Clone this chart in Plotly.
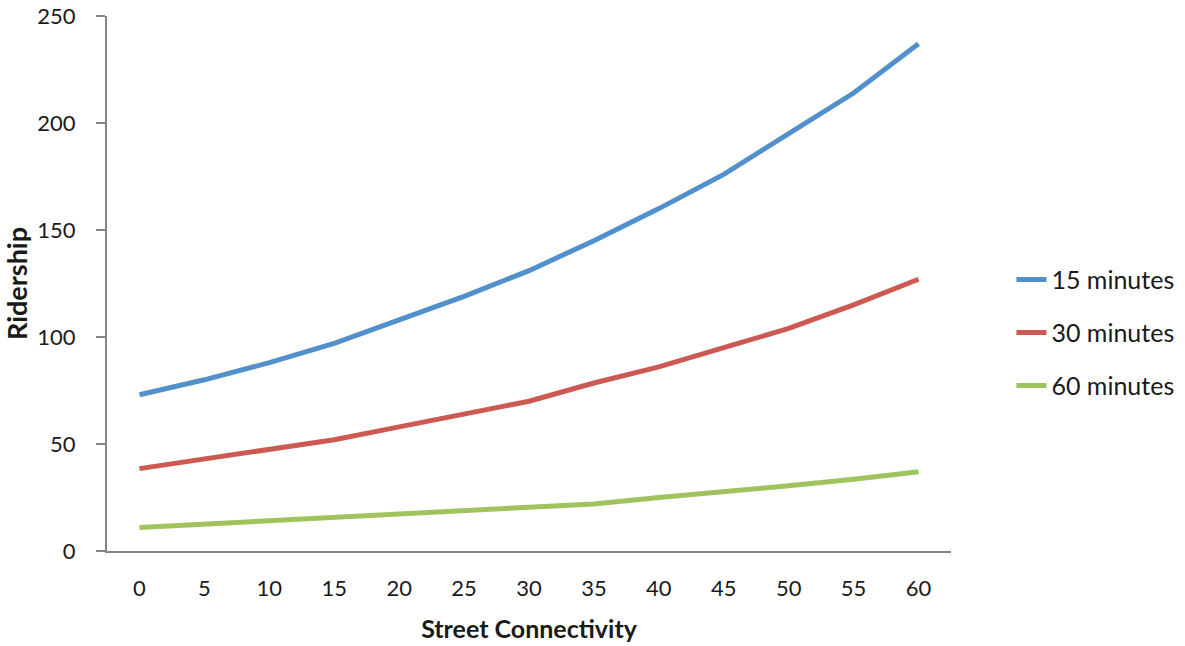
import plotly.graph_objects as go

connectivity = [0, 5, 10, 15, 20, 25, 30, 35, 40, 45, 50, 55, 60]
ridership_15 = [73, 80, 88, 97, 108, 119, 131, 145, 160, 176, 195, 214, 237]
ridership_30 = [38.5, 43, 47, 52, 58, 64, 70, 78.5, 86, 95, 104, 115, 127]
ridership_60 = [11, 12.5, 14, 15.5, 17, 18.5, 20, 22, 25, 27.5, 30.5, 33.5, 37]
series_names = ["15 minutes", "30 minutes", "60 minutes"]
series_colors = ["#5290CB", "#CD5A52", "#A0C35E"]

fig = go.Figure()
for name, vals, col in zip(series_names, [ridership_15, ridership_30, ridership_60], series_colors):
    fig.add_trace(go.Scatter(
        x=connectivity, y=vals, mode="lines", name=name, legendgroup=name,
        line=dict(color=col, width=5),
    ))

W, H = 1185, 646
ml, mr, mt, mb = 106.5, 233.5, 15.7, 95.3
fig.update_layout(
    width=W, height=H,
    margin=dict(l=ml, r=mr, t=mt, b=mb, pad=0, autoexpand=False),
    paper_bgcolor="white", plot_bgcolor="white",
    font=dict(family="Lato", size=22, color="#1a1a1a"),
    showlegend=True,
    legend=dict(
        x=1.0716, xanchor="left", y=0.55, yanchor="top",
        font=dict(size=25), tracegroupgap=17.5, bgcolor="rgba(0,0,0,0)",
    ),
    xaxis=dict(
        range=[-2.5, 62.5], tickmode="array", tickvals=connectivity,
        showline=True, linecolor="#868686", linewidth=2, automargin=False,
        showgrid=False, zeroline=False, ticks="", ticklabelstandoff=17,
        title=dict(text="<b>Street Connectivity</b>", font=dict(size=25), standoff=20),
    ),
    yaxis=dict(
        range=[0, 250], tickmode="array", tickvals=[0, 50, 100, 150, 200, 250],
        showline=True, linecolor="#868686", linewidth=2, automargin=False,
        showgrid=False, zeroline=False, ticks="outside", ticklen=9, tickwidth=2,
        tickcolor="#868686", ticklabelstandoff=16, ticklabeloverflow="allow",
        title=dict(text="<b>Ridership</b>", font=dict(size=27), standoff=16),
    ),
)
fig.write_html("out.html", config={"displayModeBar": False},
               post_script="document.body.style.margin='0px';")
